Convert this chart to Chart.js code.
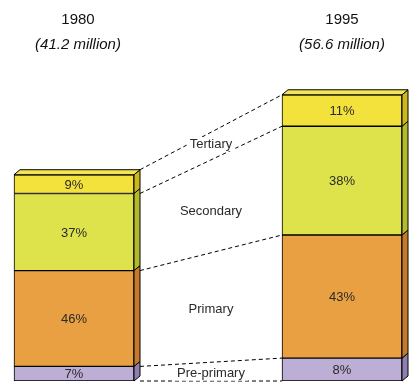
<!DOCTYPE html>
<html>
<head>
<meta charset="utf-8">
<script src="https://cdn.jsdelivr.net/npm/chart.js@4/dist/chart.umd.min.js"></script>
<style>
html,body{margin:0;padding:0;background:#fff;}
#wrap{width:420px;height:386px;position:relative;}
</style>
</head>
<body>
<div id="wrap"><canvas id="c" width="420" height="386"></canvas></div>
<script>
// ---- data ----
const years = ["1980", "1995"];
const totalsMillions = [41.2, 56.6];
const levels = ["Pre-primary", "Primary", "Secondary", "Tertiary"];
const pct1980 = [7, 46, 37, 9];
const pct1995 = [8, 43, 38, 11];

// ---- styles ----
const frontColors = ["#bcaed5", "#e9a043", "#dfe34b", "#f4e23c"];
const sideColors  = ["#8d80b0", "#c47a2b", "#b3ba2b", "#cdb81c"];
const topColor = "#f2e455";
const labelShift = [2, 2, 5, -2];

const pctByLevel = levels.map((_, i) => [pct1980[i], pct1995[i]]);
const datasets = levels.map((name, i) => ({
  label: name,
  data: [pct1980[i] * totalsMillions[0] / 100, null, pct1995[i] * totalsMillions[1] / 100],
  pct: pctByLevel[i],
  backgroundColor: frontColors[i],
  borderColor: "#000",
  borderWidth: 1,
  borderSkipped: false,
  barThickness: 120
}));

const DX = 6, DY = 5;
const FONT = '"Liberation Sans", Arial, sans-serif';

const deco = {
  id: "deco",
  afterDatasetsDraw(chart) {
    const ctx = chart.ctx;
    const n = chart.data.datasets.length;
    const metas = chart.data.datasets.map((_, i) => chart.getDatasetMeta(i));
    ctx.save();
    ctx.lineWidth = 1;
    ctx.strokeStyle = "#000";
    // side faces and top face
    [0, 2].forEach(idx => {
      metas.forEach((m, di) => {
        const b = m.data[idx];
        const xR = b.x + b.width / 2, yT = b.y, yB = b.base;
        ctx.beginPath();
        ctx.moveTo(xR, yT);
        ctx.lineTo(xR + DX, yT - DY);
        ctx.lineTo(xR + DX, yB - DY);
        ctx.lineTo(xR, yB);
        ctx.closePath();
        ctx.fillStyle = sideColors[di];
        ctx.fill();
        ctx.stroke();
        if (di === n - 1) {
          const xL = b.x - b.width / 2;
          ctx.beginPath();
          ctx.moveTo(xL, yT);
          ctx.lineTo(xL + DX, yT - DY);
          ctx.lineTo(xR + DX, yT - DY);
          ctx.lineTo(xR, yT);
          ctx.closePath();
          ctx.fillStyle = topColor;
          ctx.fill();
          ctx.stroke();
        }
      });
    });
    // percentage labels
    ctx.fillStyle = "#2a2a2a";
    ctx.font = "13px " + FONT;
    ctx.textAlign = "center";
    ctx.textBaseline = "middle";
    metas.forEach((m, di) => {
      [0, 2].forEach((idx, k) => {
        const b = m.data[idx];
        ctx.fillText(chart.data.datasets[di].pct[k] + "%", b.x, (b.y + b.base) / 2 + 1);
      });
    });
    // connectors
    const L = metas.map(m => m.data[0]);
    const R = metas.map(m => m.data[2]);
    const lx = L[0].x + L[0].width / 2 + DX;
    const rx = R[0].x - R[0].width / 2;
    const lines = [];
    lines.push([L[0].base, R[0].base]);
    for (let i = 0; i < n; i++) {
      if (i < n - 1) lines.push([L[i].y, R[i].y]);
      else lines.push([L[i].y - DY, R[i].y]);
    }
    ctx.setLineDash([4, 3]);
    lines.forEach(([a, c]) => {
      ctx.beginPath();
      ctx.moveTo(lx, a);
      ctx.lineTo(rx, c);
      ctx.stroke();
    });
    ctx.setLineDash([]);
    // level labels between connectors
    const mx = (lx + rx) / 2;
    ctx.font = "13px " + FONT;
    for (let i = 0; i < n; i++) {
      const lo = (lines[i][0] + lines[i][1]) / 2;
      const hi = (lines[i + 1][0] + lines[i + 1][1]) / 2;
      const y = (lo + hi) / 2 + labelShift[i];
      const w = ctx.measureText(levels[i]).width;
      ctx.fillStyle = "#fff";
      ctx.fillRect(mx - w / 2 - 3, y - 7, w + 6, 14);
      ctx.fillStyle = "#2a2a2a";
      ctx.fillText(levels[i], mx, y);
    }
    // titles
    [0, 2].forEach((idx, k) => {
      const b = metas[0].data[idx];
      const x = b.x + (k === 0 ? 4 : 0);
      ctx.fillStyle = "#111";
      ctx.font = "15px " + FONT;
      ctx.fillText(years[k], x, 20);
      ctx.font = "italic 15px " + FONT;
      ctx.fillText("(" + totalsMillions[k] + " million)", x, 45);
    });
    ctx.restore();
  }
};

new Chart(document.getElementById("c"), {
  type: "bar",
  data: { labels: [years[0], "", years[1]], datasets },
  options: {
    responsive: false,
    animation: false,
    events: [],
    layout: { padding: { left: 7, right: 11, top: 27, bottom: 5 } },
    plugins: { legend: { display: false }, title: { display: false }, tooltip: { enabled: false } },
    scales: {
      x: { display: false, stacked: true },
      y: { display: false, stacked: true, min: 0, max: 70 }
    }
  },
  plugins: [deco]
});
</script>
</body>
</html>
